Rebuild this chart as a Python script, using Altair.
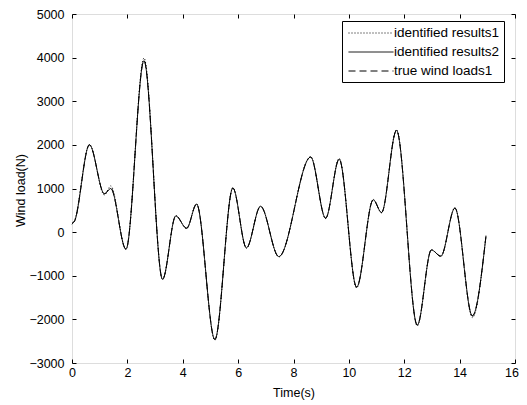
import altair as alt
import pandas as pd

# Time samples (s) at the curve's turning points
times = [0, 0.08, 0.63, 1.17, 1.4, 1.95, 2.6, 3.27, 3.75, 4.14, 4.5, 5.16, 5.81,
         6.3, 6.81, 7.47, 8.62, 9.16, 9.65, 10.28, 10.88, 11.18, 11.72, 12.47,
         12.98, 13.32, 13.83, 14.46, 14.95]

# Wind load (N)
results1 = [180, 250, 2010, 850, 1060, -400, 3990, -1090, 380, 80, 650, -2480, 1020,
            -370, 600, -570, 1730, 310, 1690, -1280, 750, 440, 2350, -2150,
            -400, -560, 560, -1960, -80]
results2 = [200, 240, 2000, 880, 1000, -390, 3930, -1080, 370, 90, 640, -2460, 1010,
            -360, 590, -560, 1720, 320, 1670, -1260, 740, 450, 2330, -2130,
            -410, -550, 550, -1920, -100]
true_loads = [200, 240, 2000, 880, 1000, -390, 3930, -1080, 370, 90, 640, -2460, 1010,
              -360, 590, -560, 1720, 320, 1670, -1260, 740, 450, 2330, -2130,
              -410, -550, 550, -1920, -100]

series_names = ["identified results1", "identified results2", "true wind loads1"]
x_ticks = [0, 2, 4, 6, 8, 10, 12, 14, 16]
y_ticks = [-3000, -2000, -1000, 0, 1000, 2000, 3000, 4000, 5000]

rows = []
for name, vals in zip(series_names, [results1, results2, true_loads]):
    for t, v in zip(times, vals):
        rows.append({"t": t, "v": v, "series": name})
df = pd.DataFrame(rows)

FONT = "Arial, Liberation Sans"

xs = alt.Scale(domain=[0, 16], nice=False, zero=False)
ys = alt.Scale(domain=[-3000, 5000], nice=False, zero=False)

lines = alt.Chart(df).mark_line(color="black", strokeWidth=1, interpolate="monotone").encode(
    x=alt.X("t:Q", scale=xs, axis=alt.Axis(
        orient="bottom", values=x_ticks, format="d", offset=-4, tickSize=4, domain=False,
        grid=False, labelPadding=3, labelFontSize=12.5, labelFont=FONT, labelColor="black",
        labelFlush=True, labelFlushOffset=3.5,
        tickColor="black", title="Time(s)", titleFont=FONT, titleFontSize=12.5,
        titleFontWeight="normal", titleColor="black", titleBaseline="middle", titleY=33)),
    y=alt.Y("v:Q", scale=ys, axis=alt.Axis(
        orient="left", values=y_ticks, format="d", offset=-4, tickSize=4, domain=False,
        grid=False, labelPadding=8, labelFontSize=12.5, labelFont=FONT, labelColor="black",
        tickColor="black", title="Wind load(N)", titleFont=FONT, titleFontSize=12.5,
        titleFontWeight="normal", titleColor="black", titleBaseline="middle",
        titleX=-56, titleY=176, titleAngle=270)),
    strokeDash=alt.StrokeDash("series:N",
        scale=alt.Scale(domain=series_names, range=[[1, 2], [1, 0], [7, 4]]),
        legend=alt.Legend(title=None, orient="none", legendX=270, legendY=7,
                          strokeColor="black", fillColor="white", padding=4,
                          cornerRadius=0, labelFontSize=13.5, labelFont=FONT,
                          labelColor="black", symbolType="M-3,0H3", symbolSize=225,
                          symbolStrokeWidth=1, symbolStrokeColor="black",
                          rowPadding=4, symbolOffset=17, labelOffset=15)),
    detail="series:N",
)

ticks2 = alt.Chart(df).mark_line(opacity=0).encode(
    x=alt.X("t:Q", scale=xs, axis=alt.Axis(
        orient="top", values=x_ticks, offset=-4, tickSize=4, domain=False, grid=False,
        labels=False, tickColor="black", title=None)),
    y=alt.Y("v:Q", scale=ys, axis=alt.Axis(
        orient="right", values=y_ticks, offset=-4, tickSize=4, domain=False, grid=False,
        labels=False, tickColor="black", title=None)),
    detail="series:N",
)

chart = alt.layer(lines, ticks2).resolve_axis(x="independent", y="independent").properties(
    width=443, height=349,
    autosize=alt.AutoSizeParams(type="none"),
    padding={"left": 64, "top": 6, "right": 4, "bottom": 37},
).configure_view(stroke="black", strokeWidth=1).configure(background="white")

chart.save("out.html", embed_options={"renderer": "svg", "actions": False})
